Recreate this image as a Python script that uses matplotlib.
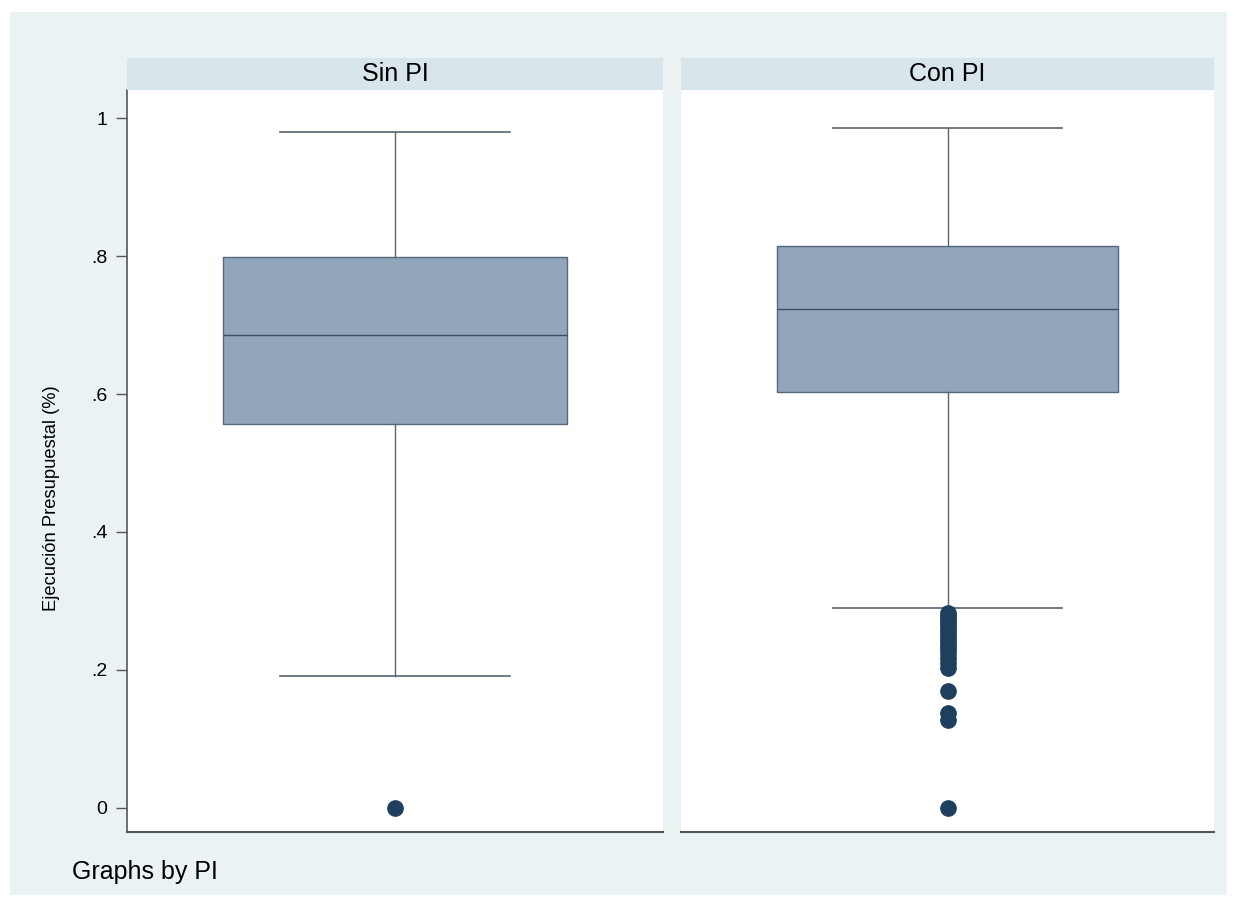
import matplotlib.pyplot as plt
from matplotlib.patches import Rectangle

plt.rcParams['font.family'] = ['Liberation Sans', 'DejaVu Sans']

# box summaries per group (Stata-style: whiskers at adjacent values)
groups = ['Sin PI', 'Con PI']
q1 = [0.557, 0.603]
med = [0.686, 0.723]
q3 = [0.799, 0.815]
whislo = [0.191, 0.290]
whishi = [0.980, 0.986]
outliers = [
    [0.0],
    [0.282, 0.278, 0.274, 0.270, 0.265, 0.260, 0.255, 0.250, 0.245, 0.240,
     0.235, 0.230, 0.224, 0.218, 0.210, 0.203, 0.170, 0.138, 0.127, 0.0],
]
yticks = [0, 0.2, 0.4, 0.6, 0.8, 1.0]
ytick_labels = ['0', '.2', '.4', '.6', '.8', '1']

W, H = 1247, 908
fig = plt.figure(figsize=(W / 100, H / 100), dpi=100, facecolor='white')

# graph region background, kept behind the panels
fig.patches.append(Rectangle((10 / W, 13 / H), 1217 / W, 883 / H,
                             transform=fig.transFigure, facecolor='#eaf2f3',
                             edgecolor='none', zorder=-10))

panels = [(127, 663), (681, 1214)]
top_px, bot_px = 90, 832
strip_h = 32

for i, (x0, x1) in enumerate(panels):
    ax = fig.add_axes([x0 / W, (H - bot_px) / H, (x1 - x0) / W, (bot_px - top_px) / H])
    ax.set_facecolor('white')
    stats = [dict(q1=q1[i], med=med[i], q3=q3[i], whislo=whislo[i],
                  whishi=whishi[i], fliers=outliers[i])]
    ax.bxp(stats, positions=[1], widths=0.64, capwidths=0.43, patch_artist=True,
           boxprops=dict(facecolor='#91a6bb', edgecolor='#56697b', linewidth=1.0),
           medianprops=dict(color='#3b4f63', linewidth=1.0),
           whiskerprops=dict(color='#5a6470', linewidth=1.0),
           capprops=dict(color='#5a6470', linewidth=1.2),
           flierprops=dict(marker='o', markersize=11, markerfacecolor='#1e3f5e',
                           markeredgecolor='#1e3f5e'))
    ax.set_xlim(0.5, 1.5)
    ax.set_ylim(-0.0348, 1.0406)
    ax.set_xticks([])
    for s in ['top', 'right']:
        ax.spines[s].set_visible(False)
    ax.spines['bottom'].set_color('#555555')
    ax.spines['bottom'].set_linewidth(1.5)
    if i == 0:
        ax.spines['left'].set_color('#555555')
        ax.spines['left'].set_linewidth(1.2)
        ax.set_yticks(yticks)
        ax.set_yticklabels(ytick_labels, fontsize=14)
        ax.tick_params(axis='y', length=8, width=1, color='#555555', pad=6)
        ax.set_ylabel('Ejecución Presupuestal (%)', fontsize=13.2)
        ax.yaxis.set_label_coords(-0.125, 0.45)
    else:
        ax.spines['left'].set_visible(False)
        ax.set_yticks([])

    # panel header strip
    sax = fig.add_axes([x0 / W, (H - top_px) / H, (x1 - x0) / W, strip_h / H])
    sax.set_facecolor('#d8e5eb')
    for s in sax.spines.values():
        s.set_visible(False)
    sax.set_xticks([])
    sax.set_yticks([])
    sax.text(0.5, 0.5, groups[i], ha='center', va='center', fontsize=18,
             transform=sax.transAxes)

fig.text(72 / W, 1 - 872 / H, 'Graphs by PI', ha='left', va='center', fontsize=18)

fig.savefig('out.png', dpi=100, facecolor=fig.get_facecolor())
